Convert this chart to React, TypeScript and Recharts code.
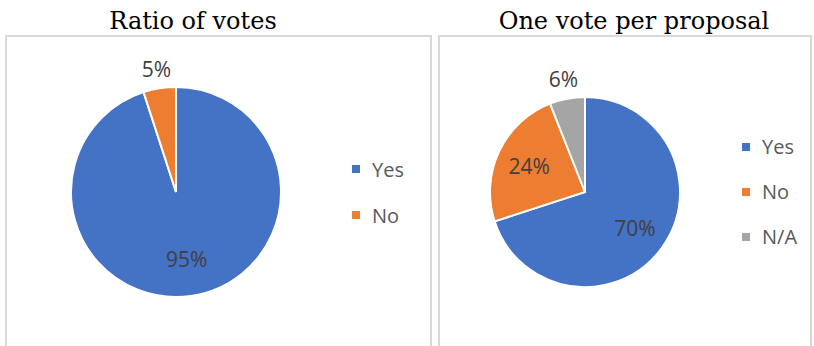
import { Cell, Legend, Pie, PieChart } from "recharts";

const votesNames = ["Yes", "No"];
const votesValues = [95, 5];

const proposalNames = ["Yes", "No", "N/A"];
const proposalValues = [70, 24, 6];

const colors = ["#4472C4", "#ED7D31", "#A5A5A5"];

const RAD = Math.PI / 180;
const LABEL_FONT = "'Open Sans', 'Noto Sans', sans-serif";

function renderLabel(props: any) {
  const { cx, cy, midAngle, outerRadius, percent, value } = props;
  const r = percent < 0.1 ? outerRadius + 20 : outerRadius * 0.65;
  const x = cx + r * Math.cos(-midAngle * RAD);
  const y = cy + r * Math.sin(-midAngle * RAD);
  return (
    <text
      x={x}
      y={y}
      textAnchor="middle"
      dominantBaseline="central"
      fontSize={21}
      fontFamily={LABEL_FONT}
      fill="#404040"
    >
      {`${value}%`}
    </text>
  );
}

function legendContent(names: string[], rowHeight: number) {
  return () => (
    <div style={{ fontFamily: LABEL_FONT, fontSize: 20, color: "#595959" }}>
      {names.map((n, i) => (
        <div key={n} style={{ height: rowHeight, display: "flex", alignItems: "center" }}>
          <span
            style={{ width: 8, height: 8, background: colors[i], display: "inline-block", marginRight: 12 }}
          />
          <span>{n}</span>
        </div>
      ))}
    </div>
  );
}

interface PanelProps {
  title: string;
  titleCenter: number;
  left: number;
  width: number;
  names: string[];
  values: number[];
  cx: number;
  radius: number;
  legendLeft: number;
  legendTop: number;
  rowHeight: number;
}

function PiePanel(p: PanelProps) {
  const data = p.names.map((name, i) => ({ name, value: p.values[i] }));
  return (
    <>
      <div
        style={{
          position: "absolute",
          left: p.titleCenter - 200,
          width: 400,
          top: 9,
          textAlign: "center",
          fontFamily: "'DejaVu Serif', serif",
          fontSize: 24,
          lineHeight: "24px",
          color: "#000",
        }}
      >
        {p.title}
      </div>
      <div
        style={{
          position: "absolute",
          left: p.left,
          top: 35,
          width: p.width,
          height: 330,
          border: "2px solid #D9D9D9",
          boxSizing: "border-box",
        }}
      />
      <div style={{ position: "absolute", left: p.left, top: 35 }}>
        <PieChart width={p.width} height={311} margin={{ top: 0, right: 0, bottom: 0, left: 0 }}>
          <Pie
            data={data}
            dataKey="value"
            nameKey="name"
            cx={p.cx}
            cy={157}
            outerRadius={p.radius}
            startAngle={90}
            endAngle={-270}
            stroke="#fff"
            strokeWidth={2}
            label={renderLabel}
            labelLine={false}
            isAnimationActive={false}
          >
            {data.map((d, i) => (
              <Cell key={d.name} fill={colors[i]} />
            ))}
          </Pie>
          <Legend
            content={legendContent(p.names, p.rowHeight)}
            wrapperStyle={{ left: p.legendLeft, top: p.legendTop, width: 100 }}
          />
        </PieChart>
      </div>
    </>
  );
}

export default function App() {
  return (
    <div
      style={{
        position: "absolute",
        left: 0,
        top: 0,
        width: 814,
        height: 346,
        overflow: "hidden",
        background: "#fff",
      }}
    >
      <PiePanel
        title="Ratio of votes"
        titleCenter={193}
        left={5}
        width={427}
        names={votesNames}
        values={votesValues}
        cx={171}
        radius={105}
        legendLeft={347}
        legendTop={111}
        rowHeight={46}
      />
      <PiePanel
        title="One vote per proposal"
        titleCenter={634}
        left={438}
        width={374}
        names={proposalNames}
        values={proposalValues}
        cx={147}
        radius={95}
        legendLeft={304}
        legendTop={89}
        rowHeight={45}
      />
    </div>
  );
}
